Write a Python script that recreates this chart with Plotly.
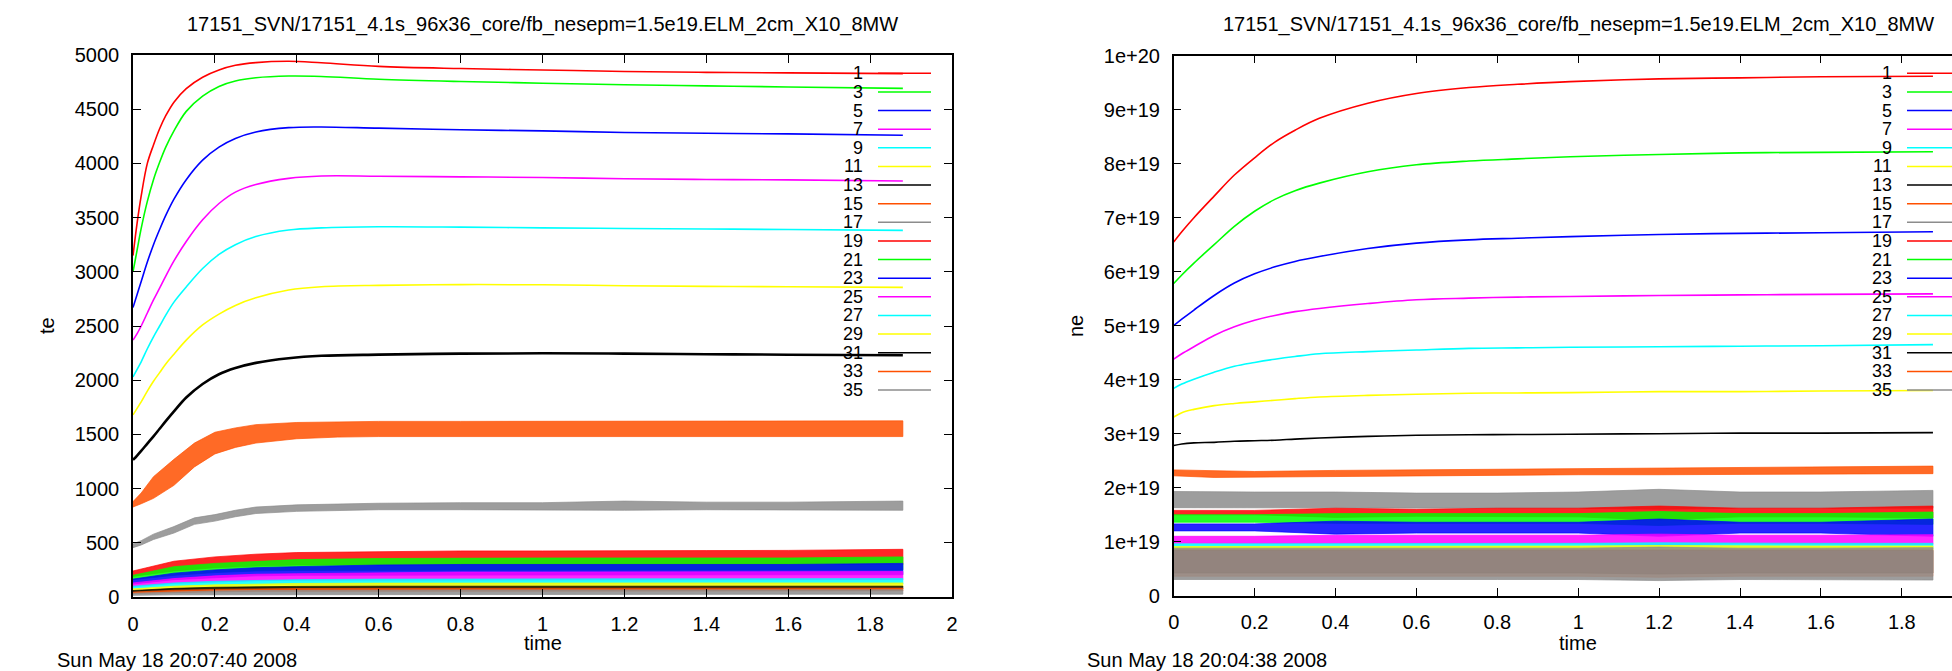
import plotly.graph_objects as go

W, H = 1952, 671
FONT = "Liberation Sans, Arial, sans-serif"
FS = 20
FS_KEY = 18

TITLE = "17151_SVN/17151_4.1s_96x36_core/fb_nesepm=1.5e19.ELM_2cm_X10_8MW"
DATE_TE = "Sun May 18 20:07:40 2008"
DATE_NE = "Sun May 18 20:04:38 2008"
LABELS = ["1", "3", "5", "7", "9", "11", "13", "15", "17", "19", "21", "23", "25", "27", "29", "31", "33", "35"]
COLORS = ["#ff0000", "#00ff00", "#0000ff", "#ff00ff", "#00ffff", "#ffff00", "#000000", "#ff5000", "#8c8c8c"] * 2

# ---------------- te panel (left) ----------------
T_L = [0, 0.01, 0.02, 0.035, 0.05, 0.065, 0.08, 0.1, 0.13, 0.17, 0.21, 0.25, 0.3, 0.38, 0.46, 0.6, 0.8, 1.0, 1.2, 1.4, 1.6, 1.88]
TE_1 = [3150, 3450, 3700, 4000, 4170, 4320, 4440, 4565, 4690, 4795, 4862, 4905, 4930, 4942, 4928, 4895, 4875, 4862, 4848, 4840, 4835, 4828]
TE_3 = [3000, 3200, 3400, 3650, 3850, 4010, 4150, 4300, 4480, 4620, 4710, 4760, 4790, 4806, 4802, 4776, 4755, 4740, 4725, 4715, 4705, 4692]
TE_5 = [2670, 2790, 2910, 3090, 3250, 3390, 3520, 3670, 3850, 4030, 4150, 4230, 4290, 4330, 4336, 4325, 4310, 4300, 4285, 4278, 4272, 4260]
TE_7 = [2370, 2430, 2500, 2620, 2740, 2850, 2960, 3100, 3280, 3480, 3630, 3735, 3805, 3862, 3884, 3882, 3876, 3870, 3858, 3852, 3848, 3838]
TE_9 = [2030, 2100, 2170, 2290, 2400, 2500, 2600, 2720, 2860, 3030, 3160, 3250, 3325, 3385, 3405, 3415, 3412, 3405, 3400, 3395, 3390, 3382]
TE_11 = [1680, 1740, 1800, 1900, 1990, 2070, 2150, 2240, 2370, 2510, 2610, 2690, 2760, 2832, 2862, 2875, 2882, 2880, 2872, 2866, 2862, 2856]
TE_13 = [1264, 1305, 1348, 1415, 1482, 1552, 1622, 1712, 1840, 1965, 2055, 2112, 2160, 2203, 2225, 2236, 2245, 2248, 2245, 2240, 2235, 2230]

# oscillating (ELM) series: lower / upper envelopes
TB_L = [0, 0.02, 0.05, 0.1, 0.15, 0.2, 0.25, 0.3, 0.4, 0.5, 0.6, 0.8, 1.0, 1.2, 1.4, 1.6, 1.88]
TE_15_LO = [830, 860, 910, 1030, 1200, 1320, 1380, 1420, 1460, 1475, 1480, 1485, 1485, 1485, 1485, 1480, 1480]
TE_15_HI = [880, 960, 1110, 1270, 1420, 1520, 1560, 1590, 1610, 1615, 1620, 1620, 1620, 1620, 1620, 1620, 1625]
TE_17_LO = [455, 480, 530, 590, 670, 700, 740, 770, 790, 800, 805, 805, 805, 800, 805, 805, 800]
TE_17_HI = [490, 520, 580, 650, 730, 760, 800, 830, 850, 860, 865, 870, 870, 885, 875, 875, 885]

TB_L2 = [0, 0.1, 0.2, 0.3, 0.4, 0.6, 0.8, 1.0, 1.2, 1.4, 1.6, 1.88]
TE_19_HI = [240, 330, 370, 395, 410, 420, 425, 425, 430, 428, 430, 440]
TE_19_LO = [190, 240, 270, 285, 295, 300, 300, 300, 300, 300, 300, 300]
TE_21_HI = [200, 280, 310, 330, 345, 355, 360, 360, 360, 360, 360, 370]
TE_21_LO = [160, 200, 225, 240, 245, 250, 250, 250, 250, 250, 250, 250]
TE_23_HI = [165, 220, 250, 270, 280, 295, 300, 300, 300, 300, 300, 310]
TE_23_LO = [120, 160, 180, 195, 200, 205, 205, 205, 205, 205, 205, 205]
TE_25_HI = [130, 170, 195, 210, 215, 225, 230, 230, 230, 230, 230, 235]
TE_25_LO = [95, 125, 140, 150, 155, 160, 160, 160, 160, 160, 160, 160]
TE_27_HI = [100, 130, 145, 155, 160, 165, 168, 168, 168, 168, 168, 170]
TE_27_LO = [75, 95, 105, 112, 115, 118, 120, 120, 120, 120, 120, 120]
TE_29_HI = [75, 100, 112, 120, 125, 128, 130, 130, 130, 130, 130, 130]
TE_29_LO = [55, 70, 78, 85, 88, 90, 92, 92, 92, 92, 92, 92]
TE_31_HI = [60, 80, 90, 95, 98, 100, 100, 100, 100, 100, 100, 100]
TE_31_LO = [45, 58, 65, 70, 72, 75, 75, 75, 75, 75, 75, 75]
TE_33_HI = [45, 62, 70, 75, 78, 80, 80, 80, 80, 80, 80, 82]
TE_33_LO = [32, 42, 48, 52, 55, 56, 57, 57, 57, 57, 57, 57]
TE_35_HI = [35, 48, 55, 60, 62, 64, 65, 65, 65, 65, 65, 66]
TE_35_LO = [15, 20, 22, 24, 25, 26, 26, 26, 26, 26, 26, 26]

# ---------------- ne panel (right), values in units of 1e19 ----------------
NE_UNIT = 1e19
T_R = [0, 0.02, 0.05, 0.1, 0.15, 0.2, 0.25, 0.3, 0.36, 0.48, 0.6, 0.73, 0.85, 0.98, 1.2, 1.4, 1.6, 1.877]
NE_1 = [6.55, 6.74, 7.0, 7.4, 7.79, 8.11, 8.4, 8.62, 8.84, 9.12, 9.30, 9.41, 9.47, 9.52, 9.57, 9.59, 9.61, 9.62]
NE_3 = [5.78, 5.94, 6.16, 6.5, 6.84, 7.12, 7.34, 7.5, 7.64, 7.85, 7.98, 8.05, 8.09, 8.13, 8.17, 8.20, 8.21, 8.22]
NE_5 = [5.0, 5.12, 5.29, 5.56, 5.79, 5.96, 6.09, 6.19, 6.28, 6.43, 6.53, 6.59, 6.62, 6.65, 6.69, 6.71, 6.72, 6.74]
NE_7 = [4.38, 4.48, 4.61, 4.82, 4.98, 5.1, 5.19, 5.26, 5.32, 5.41, 5.48, 5.51, 5.53, 5.54, 5.56, 5.57, 5.58, 5.59]
NE_9 = [3.84, 3.92, 4.01, 4.14, 4.25, 4.32, 4.38, 4.43, 4.48, 4.52, 4.55, 4.58, 4.59, 4.6, 4.61, 4.62, 4.63, 4.65]
NE_11 = [3.31, 3.39, 3.45, 3.52, 3.56, 3.59, 3.62, 3.65, 3.68, 3.71, 3.73, 3.75, 3.755, 3.76, 3.78, 3.78, 3.79, 3.80]
NE_13 = [2.78, 2.81, 2.83, 2.84, 2.86, 2.87, 2.88, 2.9, 2.92, 2.95, 2.97, 2.98, 2.985, 2.99, 3.0, 3.01, 3.01, 3.02]

TB_R = [0, 0.1, 0.2, 0.4, 0.6, 0.8, 1.0, 1.2, 1.4, 1.6, 1.877]
NE_15_HI = [2.33, 2.31, 2.30, 2.32, 2.33, 2.34, 2.35, 2.37, 2.37, 2.38, 2.40]
NE_15_LO = [2.22, 2.19, 2.19, 2.21, 2.22, 2.23, 2.24, 2.24, 2.24, 2.25, 2.26]
NE_17_HI = [1.93, 1.92, 1.92, 1.92, 1.90, 1.90, 1.92, 1.97, 1.92, 1.92, 1.95]
NE_17_LO = [1.63, 1.62, 1.62, 1.62, 1.62, 1.62, 1.62, 1.60, 1.62, 1.62, 1.62]
NE_19_HI = [1.58, 1.58, 1.58, 1.62, 1.60, 1.62, 1.62, 1.66, 1.62, 1.62, 1.66]
NE_19_LO = [1.50, 1.50, 1.50, 1.45, 1.47, 1.46, 1.46, 1.40, 1.46, 1.46, 1.44]
NE_21_HI = [1.50, 1.50, 1.50, 1.52, 1.52, 1.52, 1.52, 1.56, 1.52, 1.52, 1.55]
NE_21_LO = [1.36, 1.36, 1.36, 1.34, 1.34, 1.34, 1.34, 1.30, 1.34, 1.34, 1.32]
NE_23_HI = [1.33, 1.33, 1.33, 1.38, 1.36, 1.36, 1.36, 1.42, 1.36, 1.36, 1.42]
NE_23_LO = [1.20, 1.20, 1.20, 1.14, 1.16, 1.16, 1.16, 1.10, 1.16, 1.16, 1.10]
NE_25_HI = [1.10, 1.10, 1.10, 1.12, 1.12, 1.12, 1.12, 1.14, 1.12, 1.12, 1.13]
NE_25_LO = [0.97, 0.97, 0.97, 0.96, 0.96, 0.96, 0.96, 0.94, 0.96, 0.96, 0.95]
NE_27_HI = [0.96, 0.96, 0.96, 0.97, 0.97, 0.97, 0.97, 0.98, 0.97, 0.97, 0.97]
NE_27_LO = [0.88, 0.88, 0.88, 0.87, 0.87, 0.87, 0.87, 0.86, 0.87, 0.87, 0.87]
NE_29_HI = [0.91, 0.91, 0.91, 0.91, 0.92, 0.92, 0.92, 0.93, 0.92, 0.92, 0.92]
NE_29_LO = [0.84, 0.84, 0.84, 0.84, 0.84, 0.84, 0.84, 0.83, 0.84, 0.84, 0.84]
NE_31_HI = [0.84, 0.84, 0.83, 0.83, 0.83, 0.83, 0.83, 0.84, 0.83, 0.83, 0.84]
NE_31_LO = [0.42, 0.42, 0.42, 0.42, 0.42, 0.42, 0.42, 0.40, 0.42, 0.42, 0.42]
NE_33_HI = [0.85, 0.85, 0.85, 0.85, 0.85, 0.85, 0.85, 0.86, 0.85, 0.85, 0.85]
NE_33_LO = [0.36, 0.36, 0.36, 0.36, 0.36, 0.36, 0.36, 0.34, 0.36, 0.36, 0.36]
NE_35_HI = [0.88, 0.88, 0.88, 0.88, 0.88, 0.88, 0.88, 0.90, 0.88, 0.88, 0.89]
NE_35_LO = [0.30, 0.30, 0.30, 0.30, 0.30, 0.30, 0.30, 0.28, 0.30, 0.30, 0.29]

TE_YTICKS = [0, 500, 1000, 1500, 2000, 2500, 3000, 3500, 4000, 4500, 5000]
NE_YTICKS = [0, 1, 2, 3, 4, 5, 6, 7, 8, 9, 10]
NE_YTICK_TEXT = ["0", "1e+19", "2e+19", "3e+19", "4e+19", "5e+19", "6e+19", "7e+19", "8e+19", "9e+19", "1e+20"]

# ---------------- layout geometry (pixels) ----------------
L_X0, L_X1 = 133, 952
R_X0, R_PX_PER_UNIT = 1173.7, 404.5
Y_TOP_L, Y_BOT_L = 55, 597
Y_TOP_R, Y_BOT_R = 55.7, 595.7
LEG_Y0, LEG_DY = 73.3, 18.63

def rgba(hexcol, a):
    h = hexcol.lstrip("#")
    return "rgba(%d,%d,%d,%.2f)" % (int(h[0:2], 16), int(h[2:4], 16), int(h[4:6], 16), a)

fig = go.Figure()

def add_line(x, y, col, xa, ya, width=1.6):
    fig.add_trace(go.Scatter(x=x, y=y, mode="lines", line=dict(color=col, width=width, shape="spline", smoothing=1.0),
                             xaxis=xa, yaxis=ya, hoverinfo="skip"))

def add_band(x, lo, hi, col, xa, ya, a=0.85):
    fig.add_trace(go.Scatter(x=list(x) + list(x)[::-1], y=list(hi) + list(lo)[::-1], mode="lines",
                             fill="toself", fillcolor=rgba(col, a), line=dict(color=rgba(col, a), width=0.8),
                             xaxis=xa, yaxis=ya, hoverinfo="skip"))

# left panel
for ser, col in zip([TE_1, TE_3, TE_5, TE_7, TE_9, TE_11], COLORS[:6]):
    add_line(T_L, ser, col, "x", "y")
add_line(T_L, TE_13, COLORS[6], "x", "y", width=2.6)
add_band(TB_L, TE_15_LO, TE_15_HI, COLORS[7], "x", "y")
add_band(TB_L, TE_17_LO, TE_17_HI, COLORS[8], "x", "y")
low_te = [(TE_19_LO, TE_19_HI), (TE_21_LO, TE_21_HI), (TE_23_LO, TE_23_HI), (TE_25_LO, TE_25_HI),
          (TE_27_LO, TE_27_HI), (TE_29_LO, TE_29_HI), (TE_31_LO, TE_31_HI), (TE_33_LO, TE_33_HI), (TE_35_LO, TE_35_HI)]
for (lo, hi), col in zip(low_te, COLORS[9:]):
    add_band(TB_L2, lo, hi, col, "x", "y")

# right panel
def sc(v):
    return [a * NE_UNIT for a in v]

for ser, col in zip([NE_1, NE_3, NE_5, NE_7, NE_9, NE_11, NE_13], COLORS[:7]):
    add_line(T_R, sc(ser), col, "x2", "y2")
low_ne = [(NE_15_LO, NE_15_HI), (NE_17_LO, NE_17_HI), (NE_19_LO, NE_19_HI), (NE_21_LO, NE_21_HI),
          (NE_23_LO, NE_23_HI), (NE_25_LO, NE_25_HI), (NE_27_LO, NE_27_HI), (NE_29_LO, NE_29_HI),
          (NE_31_LO, NE_31_HI), (NE_33_LO, NE_33_HI), (NE_35_LO, NE_35_HI)]
alphas = [0.85] * 8 + [0.6, 0.55, 0.85]
for (lo, hi), col, a in zip(low_ne, COLORS[7:], alphas):
    add_band(TB_R, sc(lo), sc(hi), col, "x2", "y2", a)

axis_common = dict(showline=True, linecolor="black", linewidth=1.5, ticks="inside", ticklen=8, tickwidth=1,
                   tickcolor="black", showgrid=False, zeroline=False, ticklabelstandoff=8, automargin=False,
                   tickfont=dict(family=FONT, size=FS, color="black"))

fig.update_layout(
    template="none",
    width=W, height=H, margin=dict(l=0, r=0, t=0, b=0, pad=0, autoexpand=False),
    paper_bgcolor="white", plot_bgcolor="white", showlegend=False,
    font=dict(family=FONT, size=FS, color="black"),
    xaxis=dict(domain=[L_X0 / W, L_X1 / W], range=[0, 2], tick0=0, dtick=0.2, mirror="ticks", anchor="y", **axis_common),
    yaxis=dict(domain=[1 - Y_BOT_L / H, 1 - Y_TOP_L / H], range=[0, 5000], tickvals=TE_YTICKS, tickformat="d",
               mirror="ticks", anchor="x", **axis_common),
    xaxis2=dict(domain=[R_X0 / W, 1.0], range=[0, (W - R_X0) / R_PX_PER_UNIT], tick0=0, dtick=0.2, mirror="ticks",
                anchor="y2", **axis_common),
    yaxis2=dict(domain=[1 - Y_BOT_R / H, 1 - Y_TOP_R / H], range=[0, 10 * NE_UNIT], tickvals=sc(NE_YTICKS),
                ticktext=NE_YTICK_TEXT, mirror=False, anchor="x2", **axis_common),
)

def txt(x, y, s, xanchor="center", textangle=0, size=FS):
    fig.add_annotation(x=x / W, y=1 - y / H, xref="paper", yref="paper", text=s, showarrow=False,
                       xanchor=xanchor, yanchor="middle", textangle=textangle,
                       font=dict(family=FONT, size=size, color="black"))

# titles, labels, dates
txt((L_X0 + L_X1) / 2, 25, TITLE)
txt(R_X0 + 2 * R_PX_PER_UNIT / 2, 25, TITLE)
txt((L_X0 + L_X1) / 2, 643, "time")
txt(R_X0 + 2 * R_PX_PER_UNIT / 2, 643, "time")
txt(47, 326, "te", textangle=-90)
txt(1076, 326, "ne", textangle=-90)
txt(55, 660, DATE_TE, xanchor="left")
txt(1085, 660, DATE_NE, xanchor="left")

# keys
for i, (lab, col) in enumerate(zip(LABELS, COLORS)):
    yy = LEG_Y0 + i * LEG_DY
    txt(865, yy, lab, xanchor="right", size=FS_KEY)
    txt(1894, yy, lab, xanchor="right", size=FS_KEY)
    for x0, x1 in [(878, 931), (1907, 1965)]:
        fig.add_shape(type="line", xref="paper", yref="paper", x0=x0 / W, x1=x1 / W, y0=1 - yy / H, y1=1 - yy / H,
                      line=dict(color=col, width=1.5))

fig.write_html("out.html", config={"displayModeBar": False},
               post_script="document.body.style.margin='0px';document.body.style.overflow='hidden';")
